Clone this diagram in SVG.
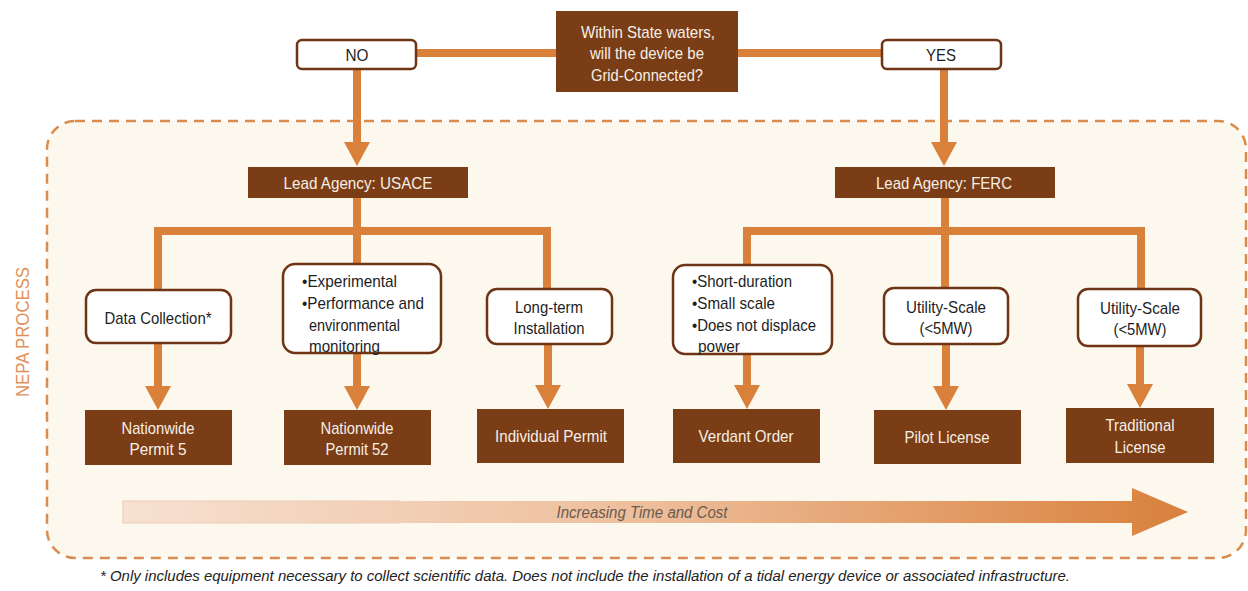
<svg xmlns="http://www.w3.org/2000/svg" width="1248" height="591" viewBox="0 0 1248 591">
<defs>
<linearGradient id="barGrad" x1="123" y1="0" x2="1188" y2="0" gradientUnits="userSpaceOnUse">
<stop offset="0" stop-color="#F7E1D2"/>
<stop offset="0.5" stop-color="#EDBD99"/>
<stop offset="1" stop-color="#D9803C"/>
</linearGradient>
<marker id="ah" viewBox="0 0 24 26" markerWidth="24" markerHeight="26" refX="0" refY="13" orient="auto" markerUnits="userSpaceOnUse">
<path d="M0,0 L24,13 L0,26 Z" fill="#D9803A"/>
</marker>
<style>
.t{font-family:"Liberation Sans",Arial,sans-serif;}
.dark{fill:#7A3D16;}
.wbox{fill:#FFFFFF;stroke:#6E3413;stroke-width:2.5;}
.wt{fill:#F7EFE4;font-size:17px;text-anchor:middle;}
.bt{fill:#1E1E1E;font-size:17px;text-anchor:middle;}
.bl{fill:#1E1E1E;font-size:17px;}
.con{fill:none;stroke:#D9803A;stroke-width:8;}
</style>
</defs>
<rect x="0" y="0" width="1248" height="591" fill="#FFFFFF"/>
<rect id="nepa-frame" x="47" y="121" width="1199" height="437" rx="28" ry="28" fill="#FDF8EE" stroke="#D98C4E" stroke-width="2.5" stroke-dasharray="10 7"/>
<text class="t" x="23" y="332" transform="rotate(-90 23 332)" text-anchor="middle" dominant-baseline="central" font-size="18" fill="#E0915A" textLength="130" lengthAdjust="spacingAndGlyphs">NEPA PROCESS</text>

<g id="connectors">
<path class="con" d="M416,53 H556 M738,53 H882"/>
<path class="con" d="M357,69 V142" marker-end="url(#ah)"/>
<path class="con" d="M944,69 V142" marker-end="url(#ah)"/>
<path class="con" d="M357,198 V264 M158,290 V231 H547 V289"/>
<path class="con" d="M945,198 V288 M747,265 V231 H1141 V289"/>
<path class="con" d="M158,343 V386" marker-end="url(#ah)"/>
<path class="con" d="M357,353 V386" marker-end="url(#ah)"/>
<path class="con" d="M548,344 V385" marker-end="url(#ah)"/>
<path class="con" d="M747,354 V385" marker-end="url(#ah)"/>
<path class="con" d="M946,344 V386" marker-end="url(#ah)"/>
<path class="con" d="M1140,346 V384" marker-end="url(#ah)"/>
</g>

<g id="q">
<rect class="dark" x="556" y="11" width="182" height="81"/>
<text class="t wt" x="648" y="38" textLength="134" lengthAdjust="spacingAndGlyphs">Within State waters,</text>
<text class="t wt" x="647" y="59" textLength="114" lengthAdjust="spacingAndGlyphs">will the device be</text>
<text class="t wt" x="647" y="81" textLength="112" lengthAdjust="spacingAndGlyphs">Grid-Connected?</text>
</g>
<g id="no">
<rect class="wbox" x="297" y="40" width="119" height="29" rx="5"/>
<text class="t bt" x="357" y="61" textLength="23" lengthAdjust="spacingAndGlyphs">NO</text>
</g>
<g id="yes">
<rect class="wbox" x="882" y="40" width="119" height="29" rx="5"/>
<text class="t bt" x="941" y="61" textLength="30" lengthAdjust="spacingAndGlyphs">YES</text>
</g>
<g id="usace">
<rect class="dark" x="248" y="167" width="220" height="31"/>
<text class="t wt" x="358" y="189" textLength="149" lengthAdjust="spacingAndGlyphs">Lead Agency: USACE</text>
</g>
<g id="ferc">
<rect class="dark" x="835" y="167" width="220" height="31"/>
<text class="t wt" x="944" y="189" textLength="136" lengthAdjust="spacingAndGlyphs">Lead Agency: FERC</text>
</g>
<g id="datacoll">
<rect class="wbox" x="86" y="290" width="145" height="53" rx="10"/>
<text class="t bt" x="158" y="324" textLength="107" lengthAdjust="spacingAndGlyphs">Data Collection*</text>
</g>
<g id="experimental">
<rect class="wbox" x="283" y="264" width="158" height="89" rx="12"/>
<text class="t bl" x="302" y="287" textLength="95" lengthAdjust="spacingAndGlyphs">•Experimental</text>
<text class="t bl" x="302" y="309" textLength="122" lengthAdjust="spacingAndGlyphs">•Performance and</text>
<text class="t bl" x="309" y="331" textLength="91" lengthAdjust="spacingAndGlyphs">environmental</text>
<text class="t bl" x="309" y="352" textLength="71" lengthAdjust="spacingAndGlyphs">monitoring</text>
</g>
<g id="longterm">
<rect class="wbox" x="487" y="289" width="125" height="55" rx="10"/>
<text class="t bt" x="549" y="313" textLength="68" lengthAdjust="spacingAndGlyphs">Long-term</text>
<text class="t bt" x="549" y="334" textLength="71" lengthAdjust="spacingAndGlyphs">Installation</text>
</g>
<g id="shortdur">
<rect class="wbox" x="673" y="265" width="159" height="89" rx="12"/>
<text class="t bl" x="692" y="287" textLength="100" lengthAdjust="spacingAndGlyphs">•Short-duration</text>
<text class="t bl" x="692" y="309" textLength="83" lengthAdjust="spacingAndGlyphs">•Small scale</text>
<text class="t bl" x="692" y="331" textLength="124" lengthAdjust="spacingAndGlyphs">•Does not displace</text>
<text class="t bl" x="698" y="352" textLength="42" lengthAdjust="spacingAndGlyphs">power</text>
</g>
<g id="util1">
<rect class="wbox" x="884" y="288" width="124" height="56" rx="10"/>
<text class="t bt" x="946" y="313" textLength="80" lengthAdjust="spacingAndGlyphs">Utility-Scale</text>
<text class="t bt" x="946" y="334" textLength="53" lengthAdjust="spacingAndGlyphs">(&lt;5MW)</text>
</g>
<g id="util2">
<rect class="wbox" x="1078" y="289" width="123" height="57" rx="10"/>
<text class="t bt" x="1140" y="314" textLength="80" lengthAdjust="spacingAndGlyphs">Utility-Scale</text>
<text class="t bt" x="1140" y="335" textLength="53" lengthAdjust="spacingAndGlyphs">(&lt;5MW)</text>
</g>
<g id="nwp5">
<rect class="dark" x="85" y="410" width="147" height="55"/>
<text class="t wt" x="158" y="434" textLength="73" lengthAdjust="spacingAndGlyphs">Nationwide</text>
<text class="t wt" x="158" y="455" textLength="57" lengthAdjust="spacingAndGlyphs">Permit 5</text>
</g>
<g id="nwp52">
<rect class="dark" x="284" y="410" width="147" height="55"/>
<text class="t wt" x="357" y="434" textLength="73" lengthAdjust="spacingAndGlyphs">Nationwide</text>
<text class="t wt" x="357" y="455" textLength="63" lengthAdjust="spacingAndGlyphs">Permit 52</text>
</g>
<g id="indiv">
<rect class="dark" x="477" y="409" width="147" height="54"/>
<text class="t wt" x="551" y="442" textLength="112" lengthAdjust="spacingAndGlyphs">Individual Permit</text>
</g>
<g id="verdant">
<rect class="dark" x="673" y="409" width="147" height="54"/>
<text class="t wt" x="746" y="442" textLength="95" lengthAdjust="spacingAndGlyphs">Verdant Order</text>
</g>
<g id="pilot">
<rect class="dark" x="874" y="410" width="147" height="54"/>
<text class="t wt" x="947" y="443" textLength="85" lengthAdjust="spacingAndGlyphs">Pilot License</text>
</g>
<g id="traditional">
<rect class="dark" x="1066" y="408" width="148" height="55"/>
<text class="t wt" x="1140" y="431" textLength="69" lengthAdjust="spacingAndGlyphs">Traditional</text>
<text class="t wt" x="1140" y="453" textLength="51" lengthAdjust="spacingAndGlyphs">License</text>
</g>

<g id="time-cost">
<path d="M123,501 H1132 V488 L1188,512 L1132,536 V523 H123 Z" fill="url(#barGrad)"/>
<path d="M400,501 H123 V523 H400" fill="none" stroke="#EBCBB6" stroke-width="1"/>
<text class="t" x="642" y="518" text-anchor="middle" font-size="16" font-style="italic" fill="#6A5A50" textLength="171" lengthAdjust="spacingAndGlyphs">Increasing Time and Cost</text>
</g>
<text class="t" x="100" y="581" font-size="15" font-style="italic" fill="#222222" textLength="970" lengthAdjust="spacingAndGlyphs">* Only includes equipment necessary to collect scientific data. Does not include the installation of a tidal energy device or associated infrastructure.</text>
</svg>
